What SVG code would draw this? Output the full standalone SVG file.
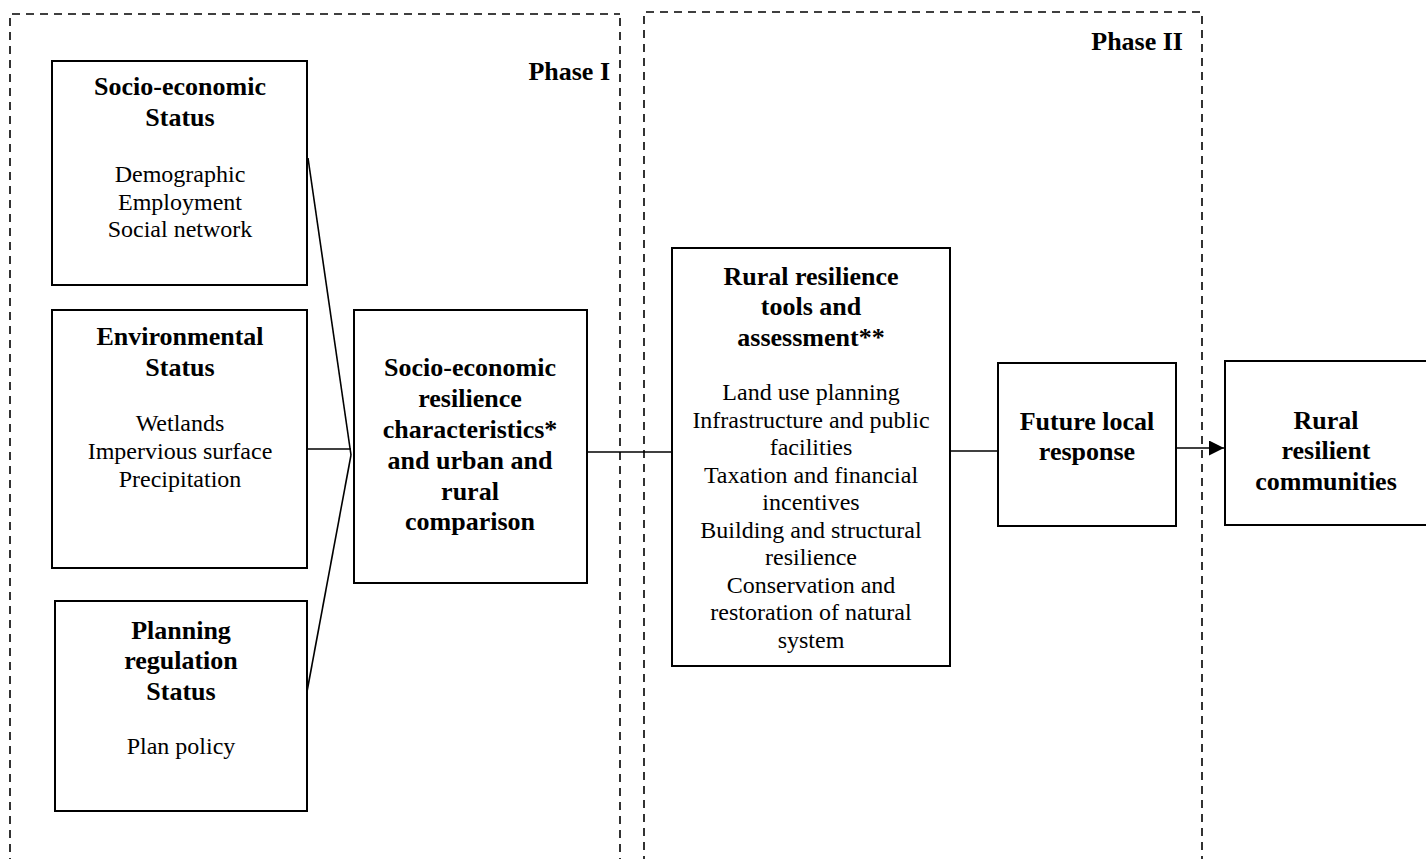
<svg xmlns="http://www.w3.org/2000/svg" width="1426" height="859" viewBox="0 0 1426 859">
  <style>
    .phase { fill: none; stroke: #000; stroke-width: 1.6; stroke-dasharray: 8 6; }
    .box { fill: #fff; stroke: #000; stroke-width: 2; }
    .link { fill: none; stroke: #000; stroke-width: 1.6; }
    text { font-family: "Liberation Serif", "Times New Roman", serif; fill: #000; }
    .b { font-weight: bold; font-size: 26px; text-anchor: middle; }
    .r { font-size: 24px; text-anchor: middle; }
    .ph { font-weight: bold; font-size: 26px; text-anchor: end; }
  </style>
  <defs>
    <marker id="arrow" viewBox="0 0 10 10" refX="10" refY="5" markerWidth="15" markerHeight="15" markerUnits="userSpaceOnUse" orient="auto">
      <path d="M0,0 L10,5 L0,10 Z" fill="#000"/>
    </marker>
  </defs>
  <rect width="1426" height="859" fill="#fff"/>

  <!-- phase frames: dashed outlines open at the bottom edge -->
  <g id="phase1">
    <path class="phase" d="M12,14 H620"/>
    <path class="phase" d="M10,18 V870"/>
    <path class="phase" d="M620,18 V870"/>
    <text class="ph" x="610" y="80">Phase I</text>
  </g>
  <g id="phase2">
    <path class="phase" d="M646,12 H1202"/>
    <path class="phase" d="M644,16 V870"/>
    <path class="phase" d="M1202,16 V870"/>
    <text class="ph" x="1183" y="50">Phase II</text>
  </g>

  <!-- connectors -->
  <g id="connectors">
    <line class="link" x1="308" y1="158" x2="351" y2="455"/>
    <line class="link" x1="306" y1="697" x2="351" y2="455"/>
    <line class="link" x1="297" y1="449" x2="351" y2="449"/>
    <line class="link" x1="587" y1="452" x2="672" y2="452"/>
    <line class="link" x1="950" y1="451" x2="998" y2="451"/>
    <line class="link" x1="1176" y1="448" x2="1224" y2="448" marker-end="url(#arrow)"/>
  </g>

  <g id="socio-economic-status">
    <rect class="box" x="52" y="61" width="255" height="224"/>
    <text class="b" x="180" y="95">Socio-economic</text>
    <text class="b" x="180" y="126">Status</text>
    <text class="r" x="180" y="182">Demographic</text>
    <text class="r" x="180" y="210">Employment</text>
    <text class="r" x="180" y="237">Social network</text>
  </g>

  <g id="environmental-status">
    <rect class="box" x="52" y="310" width="255" height="258"/>
    <text class="b" x="180" y="345">Environmental</text>
    <text class="b" x="180" y="376">Status</text>
    <text class="r" x="180" y="431">Wetlands</text>
    <text class="r" x="180" y="459">Impervious surface</text>
    <text class="r" x="180" y="487">Precipitation</text>
  </g>

  <g id="planning-status">
    <rect class="box" x="55" y="601" width="252" height="210"/>
    <text class="b" x="181" y="639">Planning</text>
    <text class="b" x="181" y="669">regulation</text>
    <text class="b" x="181" y="700">Status</text>
    <text class="r" x="181" y="754">Plan policy</text>
  </g>

  <g id="resilience-comparison">
    <rect class="box" x="354" y="310" width="233" height="273"/>
    <text class="b" x="470" y="376">Socio-economic</text>
    <text class="b" x="470" y="407">resilience</text>
    <text class="b" x="470" y="438">characteristics*</text>
    <text class="b" x="470" y="469">and urban and</text>
    <text class="b" x="470" y="500">rural</text>
    <text class="b" x="470" y="530">comparison</text>
  </g>

  <g id="tools-assessment">
    <rect class="box" x="672" y="248" width="278" height="418"/>
    <text class="b" x="811" y="285">Rural resilience</text>
    <text class="b" x="811" y="315">tools and</text>
    <text class="b" x="811" y="346">assessment**</text>
    <text class="r" x="811" y="400">Land use planning</text>
    <text class="r" x="811" y="428">Infrastructure and public</text>
    <text class="r" x="811" y="455">facilities</text>
    <text class="r" x="811" y="483">Taxation and financial</text>
    <text class="r" x="811" y="510">incentives</text>
    <text class="r" x="811" y="538">Building and structural</text>
    <text class="r" x="811" y="565">resilience</text>
    <text class="r" x="811" y="593">Conservation and</text>
    <text class="r" x="811" y="620">restoration of natural</text>
    <text class="r" x="811" y="648">system</text>
  </g>

  <g id="future-response">
    <rect class="box" x="998" y="363" width="178" height="163"/>
    <text class="b" x="1087" y="430">Future local</text>
    <text class="b" x="1087" y="460">response</text>
  </g>

  <g id="resilient-communities">
    <rect class="box" x="1225" y="361" width="210" height="164"/>
    <text class="b" x="1326" y="429">Rural</text>
    <text class="b" x="1326" y="459">resilient</text>
    <text class="b" x="1326" y="490">communities</text>
  </g>
</svg>
